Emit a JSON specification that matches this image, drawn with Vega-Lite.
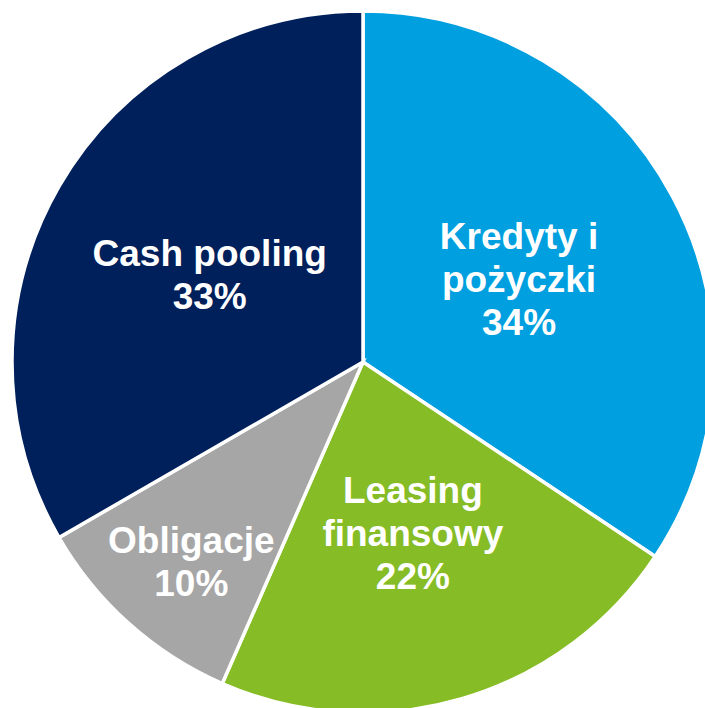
{
  "$schema": "https://vega.github.io/schema/vega-lite/v6.json",
  "autosize": "none",
  "padding": 0,
  "width": 726,
  "height": 724,
  "background": "white",
  "data": {
    "values": [
      {"rank": 1, "category": "Kredyty i pożyczki", "value": 34, "label": "Kredyty i\npożyczki\n34%"},
      {"rank": 2, "category": "Leasing finansowy", "value": 22, "label": "Leasing\nfinansowy\n22%"},
      {"rank": 3, "category": "Obligacje", "value": 10, "label": "Obligacje\n10%"},
      {"rank": 4, "category": "Cash pooling", "value": 33, "label": "Cash pooling\n33%"}
    ]
  },
  "transform": [
    {"stack": "value", "groupby": [], "sort": [{"field": "rank", "order": "ascending"}], "as": ["v0", "v1"]},
    {"calculate": "(datum.v0 + datum.v1) / 2", "as": "mid"}
  ],
  "layer": [
    {
      "mark": {"type": "arc", "outerRadius": 351, "stroke": "white", "strokeWidth": 3.5},
      "encoding": {
        "theta": {"field": "v0", "type": "quantitative", "stack": null, "scale": {"domain": [0, 99]}},
        "theta2": {"field": "v1"},
        "color": {
          "field": "category",
          "type": "nominal",
          "scale": {
            "domain": ["Kredyty i pożyczki", "Leasing finansowy", "Obligacje", "Cash pooling"],
            "range": ["#009FDF", "#86BC25", "#A6A6A6", "#00205B"]
          },
          "legend": null
        }
      }
    },
    {
      "transform": [{"filter": "datum.rank <= 2"}],
      "mark": {"type": "text", "radius": 177, "dy": -40, "font": "Liberation Sans", "fontWeight": "bold", "fontSize": 37, "lineHeight": 43, "lineBreak": "\n", "fill": "white", "align": "center", "baseline": "middle"},
      "encoding": {
        "theta": {"field": "mid", "type": "quantitative", "stack": null},
        "text": {"field": "label"}
      }
    },
    {
      "transform": [{"filter": "datum.rank === 4"}],
      "mark": {"type": "text", "radius": 177, "dy": -18.5, "font": "Liberation Sans", "fontWeight": "bold", "fontSize": 37, "lineHeight": 43, "lineBreak": "\n", "fill": "white", "align": "center", "baseline": "middle"},
      "encoding": {
        "theta": {"field": "mid", "type": "quantitative", "stack": null},
        "text": {"field": "label"}
      }
    },
    {
      "transform": [{"filter": "datum.rank === 3"}],
      "mark": {"type": "text", "radius": 262, "dx": 3, "dy": -15, "font": "Liberation Sans", "fontWeight": "bold", "fontSize": 37, "lineHeight": 43, "lineBreak": "\n", "fill": "white", "align": "center", "baseline": "middle"},
      "encoding": {
        "theta": {"field": "mid", "type": "quantitative", "stack": null},
        "text": {"field": "label"}
      }
    }
  ]
}
